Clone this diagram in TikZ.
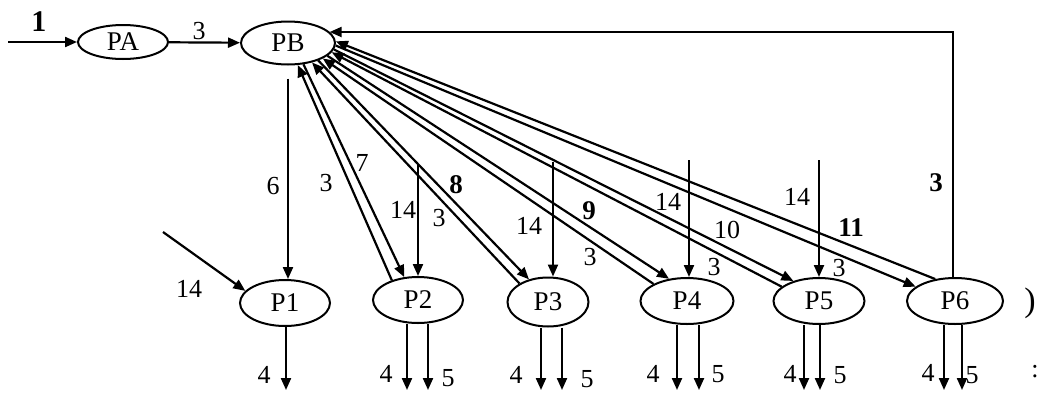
\documentclass[tikz,border=0pt]{standalone}
\usepackage{fontspec}
\setmainfont{Liberation Serif}
\usetikzlibrary{shapes.geometric,arrows.meta}
\begin{document}
\begin{tikzpicture}[x=0.5pt,y=-0.5pt,
  proc/.style={ellipse,draw,line width=1pt,inner sep=0pt,font=\fontsize{13.5}{15}\selectfont},
  lbl/.style={inner sep=0pt,font=\fontsize{13}{15}\selectfont},
  blbl/.style={inner sep=0pt,font=\fontsize{13.5}{15}\selectfont\bfseries},
  arr/.style={line width=1.1pt,-{Triangle[length=6pt,width=5pt]}}]
\useasboundingbox (0,0) rectangle (1040,392);
% nodes
\node[proc,minimum width=45pt,minimum height=17pt] (PA) at (123,42) {PA};
\node[proc,minimum width=47pt,minimum height=21.5pt] (PB) at (288,43) {PB};
\node[proc,minimum width=45pt,minimum height=23pt] (P1) at (285,303) {P1};
\node[proc,minimum width=45pt,minimum height=23pt] (P2) at (418,300) {P2};
\node[proc,minimum width=40.5pt,minimum height=24.5pt] (P3) at (548,302) {P3};
\node[proc,minimum width=46.5pt,minimum height=23pt] (P4) at (687,301) {P4};
\node[proc,minimum width=45.5pt,minimum height=23pt] (P5) at (819,301) {P5};
\node[proc,minimum width=48pt,minimum height=23pt] (P6) at (955,301) {P6};
% free ends
\coordinate (in0) at (8,42);
\coordinate (in1) at (163,232);
\coordinate (i2) at (418,165);
\coordinate (i3) at (553,162);
\coordinate (i4) at (689,160);
\coordinate (i5) at (819,160);
\coordinate (c6) at (953,32);
\coordinate (o1) at (286,390);
\coordinate (o2a) at (407,390);
\coordinate (o2b) at (428,390);
\coordinate (o3a) at (541,390);
\coordinate (o3b) at (562,390);
\coordinate (o4a) at (677,390);
\coordinate (o4b) at (699,390);
\coordinate (o5a) at (804,390);
\coordinate (o5b) at (820,390);
\coordinate (o6a) at (944,390);
\coordinate (o6b) at (962,390);
% top part
\draw[arr] (in0) -- (PA);
\draw[arr] (PA) -- (PB);
\draw[arr,shorten <=6.5pt] (PB.south) -- (PB.south |- P1.north);
\draw[arr] (in1) -- (P1.163);
% pairs between PB and P2..P6
\draw[arr] (P2.143) -- (PB.-66);
\draw[arr] (PB.-54) -- (P2.121);
\draw[arr] (P3.147) -- (PB.-39);
\draw[arr] (PB.-30) -- (P3.130);
\draw[arr] (P4.153) -- (PB.-24);
\draw[arr] (PB.-18) -- (P4.129);
\draw[arr] (P5.159) -- (PB.-12);
\draw[arr] (PB.-8) -- (P5.142);
\draw[arr] (PB.-3) -- (P6.160);
\draw[arr] (P6.132) -- (PB.2);
\draw[arr] (c6 |- P6.north) -- (c6) -- (c6 -| PB.15);
% inputs 14
\draw[arr] (i2) -- (i2 |- P2.north);
\draw[arr] (i3) -- (i3 |- P3.north);
\draw[arr] (i4) -- (i4 |- P4.north);
\draw[arr] (i5) -- (i5 |- P5.north);
% outputs
\draw[arr] (o1 |- P1.south) -- (o1);
\draw[arr] (o2a |- P2.south) -- (o2a);
\draw[arr] (o2b |- P2.south) -- (o2b);
\draw[arr] (o3a |- P3.south) -- (o3a);
\draw[arr] (o3b |- P3.south) -- (o3b);
\draw[arr] (o4a |- P4.south) -- (o4a);
\draw[arr] (o4b |- P4.south) -- (o4b);
\draw[arr] (o5a |- P5.south) -- (o5a);
\draw[arr] (o5b |- P5.south) -- (o5b);
\draw[arr] (o6a |- P6.south) -- (o6a);
\draw[arr] (o6b |- P6.south) -- (o6b);
% labels
\node[blbl,font=\fontsize{15}{17}\selectfont\bfseries] (t1) at (39,22) {1};
\node[lbl] (t2) at (199,31) {3};
\node[lbl] (t3) at (273,186) {6};
\node[lbl] (t4) at (326,183) {3};
\node[lbl] (t5) at (362,163) {7};
\node[lbl] (t6) at (403,210) {14};
\node[lbl] (t7) at (439,218) {3};
\node[blbl] (t8) at (456,185) {8};
\node[lbl] (t9) at (529,226) {14};
\node[blbl] (t10) at (589,211) {9};
\node[lbl] (t11) at (590,257) {3};
\node[lbl] (t12) at (668,202) {14};
\node[lbl] (t13) at (727,230) {10};
\node[lbl] (t14) at (714,267) {3};
\node[lbl] (t15) at (797,197) {14};
\node[blbl] (t16) at (851,228) {11};
\node[lbl] (t17) at (839,268) {3};
\node[blbl] (t18) at (936,183) {3};
\node[lbl] (t19) at (189,289) {14};
\node[lbl] (b1) at (264,375) {4};
\node[lbl] (b2) at (386,374) {4};
\node[lbl] (b3) at (448,378) {5};
\node[lbl] (b4) at (516,375) {4};
\node[lbl] (b5) at (587,379) {5};
\node[lbl] (b6) at (653,374) {4};
\node[lbl] (b7) at (718,374) {5};
\node[lbl] (b8) at (790,374) {4};
\node[lbl] (b9) at (840,375) {5};
\node[lbl] (b10) at (928,373) {4};
\node[lbl] (b11) at (972,375) {5};
\node[inner sep=0pt,font=\fontsize{17}{19}\selectfont] (e1) at (1030,303) {)};
\node[lbl] (e2) at (1035,372) {:};
\end{tikzpicture}
\end{document}
